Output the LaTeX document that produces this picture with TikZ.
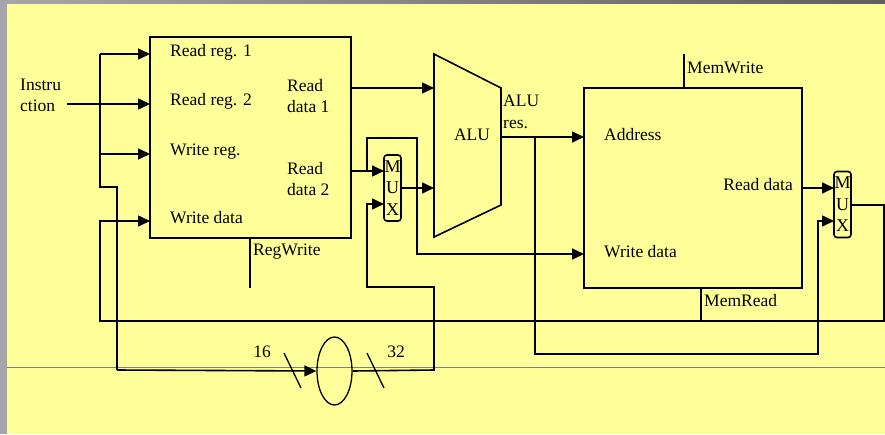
\documentclass[tikz,border=0pt]{standalone}
\usepackage{fontspec}
\setmainfont{Liberation Serif}
\usetikzlibrary{arrows.meta,shapes.geometric}
\definecolor{slideyellow}{RGB}{255,255,153}
\definecolor{framegray}{RGB}{165,165,172}
\definecolor{framedark}{RGB}{95,95,95}
\begin{document}
\begin{tikzpicture}[x=1pt,y=-1pt,
    >={Triangle[length=12pt,width=11pt]},
    wire/.style={line width=1.6pt},
    blockbox/.style={draw,line width=1.6pt,inner sep=0pt},
    muxbox/.style={draw,line width=1.6pt,rounded corners=3pt,inner sep=0pt,
        minimum width=17pt,minimum height=66pt,align=center,
        font=\fontsize{18}{21.5}\selectfont},
    lbl/.style={inner sep=0pt,anchor=west,align=left,
        font=\fontsize{17.5}{21.5}\selectfont}]
\useasboundingbox (0,0) rectangle (885,434);
% slide background
\fill[framegray] (0,0) rectangle (885,434);
\shade[left color=framegray,right color=framedark] (0,0) rectangle (885,4);
\fill[slideyellow] (7,4) rectangle (885,434);
\draw[gray,line width=0.8pt] (7,367) -- (885,367);

% blocks
\node[blockbox,minimum width=201pt,minimum height=201pt] (regs) at (250.5,137.5) {};
\node[blockbox,minimum width=218pt,minimum height=200pt] (mem) at (693,188) {};
\node[muxbox] (mux1) at (392.5,188) {M\\U\\X};
\node[muxbox] (mux2) at (842.5,204.5) {M\\U\\X};
\node[ellipse,draw,line width=1.3pt,minimum width=35pt,minimum height=68pt,inner sep=0pt] (se) at (334.5,371) {};
\draw[wire] (434,54) -- (501,88) -- (501,205) -- (434,237) -- cycle;

% ports
\coordinate (instr) at (67,104);
\coordinate (rr1) at (150,54);
\coordinate (rr2) at (150,104);
\coordinate (wr) at (150,154);
\coordinate (wd) at (150,221);
\coordinate (aluA) at (434,88);
\coordinate (aluB) at (434,188);
\coordinate (alures) at (501,137);
\coordinate (m1a) at (384,171);
\coordinate (m1b) at (384,204);
\coordinate (m2a) at (834,188);
\coordinate (m2b) at (834,221);
\coordinate (addr) at (584,137);
\coordinate (memwd) at (584,254);
\coordinate (memw) at (684,54);
\coordinate (memr) at (701,321);
\coordinate (regw) at (250,288);
\coordinate (wb) at (884,205);

% labels
\node[lbl] at (20,95.5) {Instru\\ction};
\node[lbl] at (170,52) {Read reg. 1};
\node[lbl] at (170,101) {Read reg. 2};
\node[lbl] at (170,152) {Write reg.};
\node[lbl] at (170,218) {Write data};
\node[lbl] at (287,96) {Read\\data 1};
\node[lbl] at (287,179) {Read\\data 2};
\node[lbl] at (253,252) {RegWrite};
\node[lbl,anchor=center] at (472,135) {ALU};
\node[lbl] at (503,112) {ALU\\res.};
\node[lbl] at (604,135) {Address};
\node[lbl] at (604,252) {Write data};
\node[lbl,anchor=east] at (793,185) {Read data};
\node[lbl] at (687,68) {MemWrite};
\node[lbl] at (704,301) {MemRead};
\node[lbl,anchor=center] at (262,352) {16};
\node[lbl,anchor=center] at (396,352) {32};

% instruction fields
\draw[wire,->] (instr) -- (rr2);
\draw[wire] (100,54) -- (100,187) -- (117,187) -- (117,370);
\draw[wire,->] (117,370) -- (se.west);
\draw[wire,->] (100,54) -- (rr1);
\draw[wire,->] (100,154) -- (wr);
\draw[line width=1.3pt] (284,353) -- (301,388);
\draw[line width=1.3pt] (367,353) -- (384,388);

% register outputs
\draw[wire,->] (regs.east |- aluA) -- (aluA);
\draw[wire,->] (regs.east |- m1a) -- (m1a);
\draw[wire,->] (367,171) -- (367,138) -- (417,138) -- (417,254) -- (memwd);
\draw[wire,->] (se.east) -- (434,370) -- (434,287) -- (367,287) -- (367,204) -- (m1b);
\draw[wire,->] (mux1.east |- aluB) -- (aluB);

% alu and memory
\draw[wire,->] (alures) -- (addr);
\draw[wire,->] (535,137) -- (535,354) -- (818,354) -- (818,221) -- (m2b);
\draw[wire,->] (mem.east |- m2a) -- (m2a);
\draw[wire,->] (mux2.east |- wb) -- (wb) -- (884,321) -- (100,321) -- (100,221) -- (wd);

% control lines
\draw[wire] (memw) -- (memw |- mem.north);
\draw[wire] (memr |- mem.south) -- (memr);
\draw[wire] (regw |- regs.south) -- (regw);
\end{tikzpicture}
\end{document}
